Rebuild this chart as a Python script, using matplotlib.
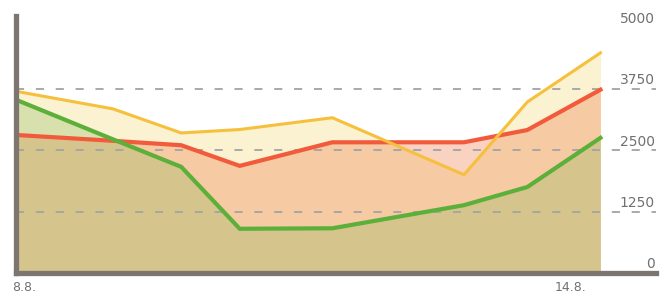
import matplotlib
matplotlib.use("Agg")
import matplotlib.pyplot as plt
import matplotlib.transforms as mtransforms

# data
days = [0, 1, 1.7, 2.3, 3.25, 4.6, 5.25, 6]
yellow = [3700, 3340, 2850, 2920, 3160, 2000, 3480, 4480]
red = [2810, 2690, 2600, 2180, 2660, 2660, 2910, 3730]
green = [3530, 2720, 2160, 900, 910, 1380, 1750, 2750]
y_ticks = [0, 1250, 2500, 3750, 5000]
x_tick_pos = [0, 6]
x_tick_labels = ["8.8.", "14.8."]

fig = plt.figure(figsize=(6.69, 2.98), dpi=100)
ax = fig.add_axes([15.5 / 669, 25 / 298, (656 - 15.5) / 669, (282 - 25) / 298])

# fills
ax.fill_between(days, yellow, 0, color="#f2dc7a", alpha=0.35, linewidth=0, zorder=1)
ax.fill_between(days, red, 0, color="#f08050", alpha=0.35, linewidth=0, zorder=2)
ax.fill_between(days, green, 0, color="#8bba5d", alpha=0.30, linewidth=0, zorder=3)

# grid lines
for v in y_ticks[1:4]:
    ax.axhline(v, color="#a3a3a3", linewidth=1.3, linestyle=(0, (4.5, 6.5)), zorder=4)

# lines
ax.plot(days, red, color="#f25a3c", linewidth=3.0, solid_joinstyle="miter", zorder=5)
ax.plot(days, yellow, color="#f6c03c", linewidth=2.2, solid_joinstyle="miter", zorder=6)
ax.plot(days, green, color="#5cb03a", linewidth=3.0, solid_joinstyle="miter", zorder=7)

ax.set_xlim(0, 6.57)
ax.set_ylim(0, 5230)

for s in ["top", "right"]:
    ax.spines[s].set_visible(False)
for s in ["left", "bottom"]:
    ax.spines[s].set_color("#7d7570")
    ax.spines[s].set_linewidth(3.8)
    ax.spines[s].set_zorder(8)

ax.yaxis.tick_right()
ax.set_yticks(y_ticks)
ax.set_yticklabels([str(v) for v in y_ticks])
ax.tick_params(axis="y", length=0, pad=-1, labelsize=10, labelcolor="#707070")
for lab in ax.get_yticklabels():
    lab.set_horizontalalignment("right")
    lab.set_verticalalignment("bottom")
    lab.set_transform(lab.get_transform() + mtransforms.ScaledTranslation(0, 1.5 / 100, fig.dpi_scale_trans))

ax.set_xticks(x_tick_pos)
ax.set_xticklabels(x_tick_labels)
ax.tick_params(axis="x", length=0, pad=6, labelsize=9, labelcolor="#707070")
xl = ax.get_xticklabels()
xl[0].set_horizontalalignment("left")
xl[0].set_transform(xl[0].get_transform() + mtransforms.ScaledTranslation(-3 / 100, 0, fig.dpi_scale_trans))
xl[1].set_horizontalalignment("right")
xl[1].set_transform(xl[1].get_transform() + mtransforms.ScaledTranslation(-14 / 100, 0, fig.dpi_scale_trans))

fig.savefig("out.png", dpi=100)
